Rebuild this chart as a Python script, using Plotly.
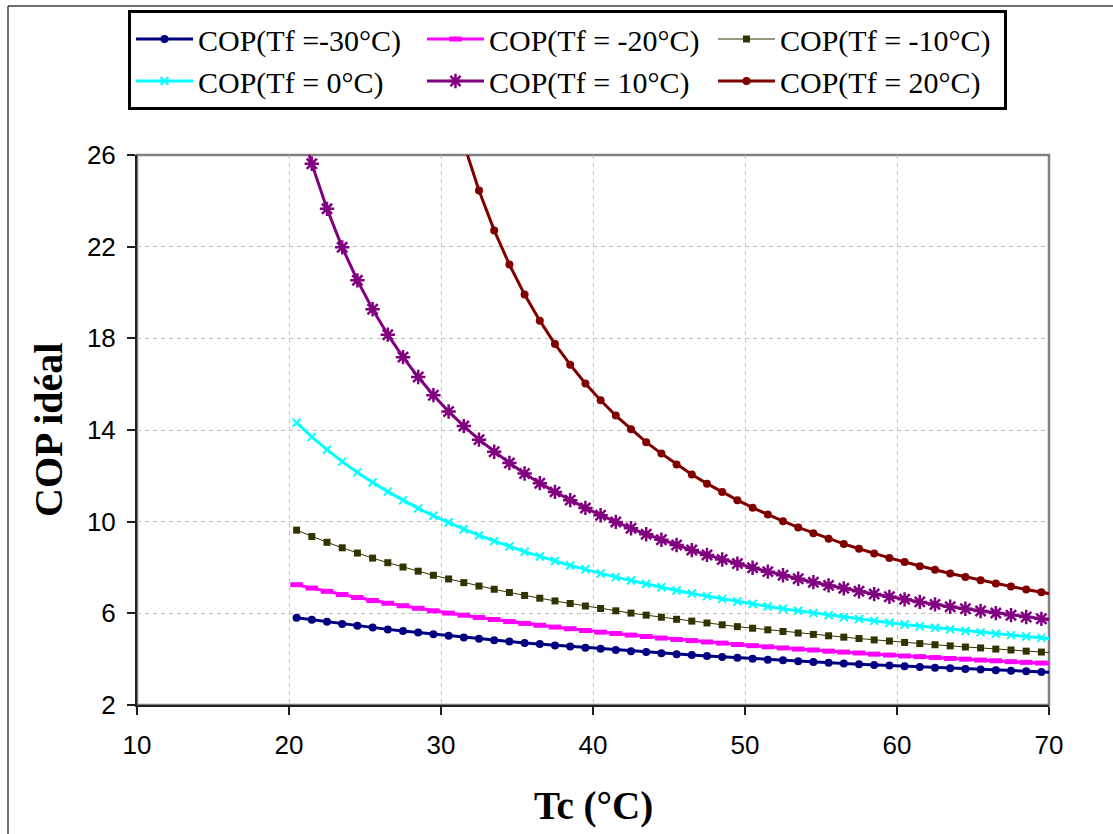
import plotly.graph_objects as go

# Condenser temperature Tc (°C)
TC = [20.5, 21.5, 22.5, 23.5, 24.5, 25.5, 26.5, 27.5, 28.5, 29.5,
      30.5, 31.5, 32.5, 33.5, 34.5, 35.5, 36.5, 37.5, 38.5, 39.5,
      40.5, 41.5, 42.5, 43.5, 44.5, 45.5, 46.5, 47.5, 48.5, 49.5,
      50.5, 51.5, 52.5, 53.5, 54.5, 55.5, 56.5, 57.5, 58.5, 59.5,
      60.5, 61.5, 62.5, 63.5, 64.5, 65.5, 66.5, 67.5, 68.5, 69.5,
      70.5]

# Ideal COP for each evaporator temperature Tf
COP_M30 = [5.81, 5.72, 5.63, 5.54, 5.46, 5.38, 5.30, 5.23, 5.16, 5.09,
           5.02, 4.95, 4.89, 4.83, 4.77, 4.71, 4.66, 4.60, 4.55, 4.50,
           4.45, 4.40, 4.35, 4.31, 4.26, 4.22, 4.18, 4.14, 4.10, 4.06,
           4.02, 3.98, 3.95, 3.91, 3.88, 3.84, 3.81, 3.78, 3.75, 3.72,
           3.69, 3.66, 3.63, 3.60, 3.57, 3.55, 3.52, 3.49, 3.47, 3.44,
           3.42]
COP_M20 = [7.25, 7.10, 6.96, 6.82, 6.69, 6.56, 6.44, 6.33, 6.22, 6.11,
           6.01, 5.92, 5.82, 5.73, 5.64, 5.56, 5.48, 5.40, 5.33, 5.25,
           5.18, 5.12, 5.05, 4.99, 4.92, 4.86, 4.81, 4.75, 4.70, 4.64,
           4.59, 4.54, 4.49, 4.44, 4.40, 4.35, 4.31, 4.27, 4.22, 4.18,
           4.14, 4.11, 4.07, 4.03, 4.00, 3.96, 3.93, 3.89, 3.86, 3.83,
           3.80]
COP_M10 = [9.63, 9.35, 9.10, 8.86, 8.63, 8.41, 8.21, 8.02, 7.84, 7.66,
           7.50, 7.34, 7.19, 7.05, 6.91, 6.78, 6.66, 6.54, 6.43, 6.32,
           6.21, 6.11, 6.01, 5.92, 5.83, 5.74, 5.66, 5.58, 5.50, 5.42,
           5.35, 5.28, 5.21, 5.14, 5.08, 5.02, 4.96, 4.90, 4.84, 4.79,
           4.73, 4.68, 4.63, 4.58, 4.53, 4.49, 4.44, 4.40, 4.35, 4.31,
           4.27]
COP_0 = [14.32, 13.70, 13.14, 12.62, 12.15, 11.71, 11.31, 10.93, 10.58, 10.26,
         9.96, 9.67, 9.40, 9.15, 8.92, 8.69, 8.48, 8.28, 8.09, 7.92,
         7.74, 7.58, 7.43, 7.28, 7.14, 7.00, 6.87, 6.75, 6.63, 6.52,
         6.41, 6.30, 6.20, 6.11, 6.01, 5.92, 5.83, 5.75, 5.67, 5.59,
         5.51, 5.44, 5.37, 5.30, 5.23, 5.17, 5.11, 5.05, 4.99, 4.93,
         4.87]
COP_10 = [27.97, 25.62, 23.65, 21.97, 20.53, 19.27, 18.16, 17.18, 16.31, 15.52,
          14.81, 14.17, 13.58, 13.05, 12.56, 12.10, 11.68, 11.30, 10.94, 10.60,
          10.28, 9.99, 9.71, 9.45, 9.21, 8.98, 8.76, 8.55, 8.35, 8.17,
          7.99, 7.82, 7.66, 7.51, 7.36, 7.22, 7.09, 6.96, 6.84, 6.72,
          6.61, 6.50, 6.39, 6.29, 6.20, 6.10, 6.01, 5.92, 5.84, 5.76,
          5.68]
# Tf = 20 °C series starts at Tc = 29.5
TC_20 = TC[9:]
COP_20 = [31.86, 28.92, 26.49, 24.45, 22.71, 21.22, 19.91, 18.77, 17.75, 16.85,
          16.03, 15.30, 14.63, 14.03, 13.47, 12.97, 12.50, 12.06, 11.66, 11.29,
          10.94, 10.61, 10.31, 10.02, 9.75, 9.50, 9.26, 9.03, 8.82, 8.61,
          8.42, 8.24, 8.06, 7.90, 7.74, 7.59, 7.44, 7.30, 7.17, 7.04,
          6.92, 6.80]

NAMES = ["COP(Tf =-30°C)", "COP(Tf = -20°C)", "COP(Tf = -10°C)",
         "COP(Tf = 0°C)", "COP(Tf = 10°C)", "COP(Tf = 20°C)"]

# Page geometry (pixels)
W, H = 1113, 834
PL, PR, PT, PB = 137, 1049, 155, 705


def px_x(px):
    return (px - PL) / (PR - PL)


def px_y(py):
    return (PB - py) / (PB - PT)


SERIF = "Liberation Serif"
SANS = "Liberation Sans"

fig = go.Figure()

fig.add_trace(go.Scatter(
    x=TC, y=COP_M30, name=NAMES[0], mode="lines+markers",
    line=dict(color="#000080", width=3),
    marker=dict(symbol="circle", size=8, color="#000080")))
fig.add_trace(go.Scatter(
    x=TC, y=COP_M20, name=NAMES[1], mode="lines+markers",
    line=dict(color="#FF00FF", width=3),
    marker=dict(symbol="line-ew-open", size=9,
                line=dict(color="#FF00FF", width=5))))
fig.add_trace(go.Scatter(
    x=TC, y=COP_M10, name=NAMES[2], mode="lines+markers",
    line=dict(color="#333300", width=1),
    marker=dict(symbol="square", size=7, color="#333300")))
fig.add_trace(go.Scatter(
    x=TC, y=COP_0, name=NAMES[3], mode="lines+markers",
    line=dict(color="#00FFFF", width=3),
    marker=dict(symbol="x-thin-open", size=8,
                line=dict(color="#00FFFF", width=2))))
fig.add_trace(go.Scatter(
    x=TC, y=COP_10, name=NAMES[4], mode="lines+markers",
    line=dict(color="#800080", width=3),
    marker=dict(symbol="asterisk-open", size=12,
                line=dict(color="#800080", width=2.5))))
fig.add_trace(go.Scatter(
    x=TC_20, y=COP_20, name=NAMES[5], mode="lines+markers",
    line=dict(color="#800000", width=3),
    marker=dict(symbol="circle", size=8, color="#800000")))

shapes = [
    # plot-area frame (grey top and right edges)
    dict(type="rect", xref="paper", yref="paper", x0=0, x1=1, y0=0, y1=1,
         line=dict(color="#808080", width=2.5), layer="below"),
    # chart-area border
    dict(type="line", xref="paper", yref="paper",
         x0=px_x(8), x1=px_x(W + 5), y0=px_y(6), y1=px_y(6),
         line=dict(color="#404040", width=1.5)),
    dict(type="line", xref="paper", yref="paper",
         x0=px_x(8), x1=px_x(8), y0=px_y(6), y1=px_y(H + 5),
         line=dict(color="#404040", width=1.5)),
]

annotations = [
    dict(text="COP idéal", xref="paper", yref="paper", x=px_x(48), y=0.5,
         textangle=-90, showarrow=False, xanchor="center", yanchor="middle",
         font=dict(family=SERIF, size=40, color="black", weight="bold")),
    dict(text="Tc (°C)", xref="paper", yref="paper", x=0.5, y=px_y(806),
         showarrow=False, xanchor="center", yanchor="middle",
         font=dict(family=SERIF, size=39, color="black", weight="bold")),
]

axis_common = dict(
    showline=True, linecolor="#202020", linewidth=2,
    ticks="outside", ticklen=8, tickwidth=2, tickcolor="#202020",
    showgrid=True, gridcolor="#C0C0C0", gridwidth=1, griddash="4px,4px",
    zeroline=False,
    tickfont=dict(family=SANS, size=26, color="black"),
)

fig.update_layout(
    width=W, height=H,
    margin=dict(l=PL, r=W - PR, t=PT, b=H - PB, autoexpand=False),
    paper_bgcolor="white", plot_bgcolor="white",
    xaxis=dict(range=[10, 70], dtick=10, tick0=10,
               ticklabelstandoff=8, **axis_common),
    yaxis=dict(range=[2, 26], dtick=4, tick0=2,
               ticklabelstandoff=6, **axis_common),
    shapes=shapes,
    annotations=annotations,
    showlegend=True,
    legend=dict(
        orientation="h", x=px_x(128), y=px_y(10),
        xanchor="left", yanchor="top",
        bgcolor="white", bordercolor="black", borderwidth=3,
        font=dict(family=SERIF, size=30, color="black"),
        itemwidth=57, entrywidth=219, entrywidthmode="pixels",
        traceorder="normal", tracegroupgap=0,
    ),
)

fig.write_html("out.html")
